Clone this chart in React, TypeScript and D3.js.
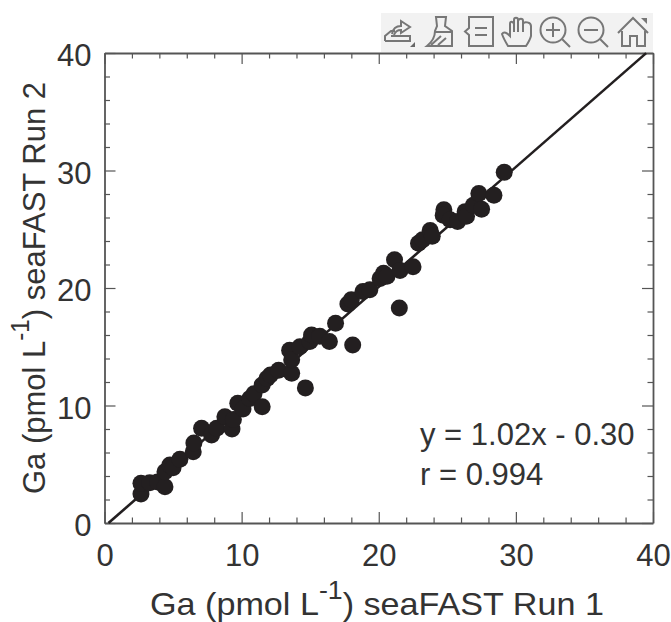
import React, { useEffect, useRef } from "react";
import * as d3 from "d3";

const run1 = [2.66, 2.66, 3.3, 3.88, 4.41, 4.41, 4.77, 5.0, 5.5, 6.47, 6.52, 7.08, 7.81, 8.18, 8.78, 9.3, 9.4, 9.72, 10.1, 10.6, 10.9, 11.5, 11.5, 11.85, 12.1, 12.7, 13.65, 13.5, 13.65, 14.65, 14.25, 14.98, 15.1, 15.7, 16.4, 16.85, 18.1, 17.75, 18.0, 18.85, 19.35, 20.1, 20.35, 20.6, 21.15, 21.5, 21.55, 22.5, 22.9, 23.2, 23.75, 23.9, 24.75, 24.7, 25.2, 25.75, 26.3, 26.4, 26.9, 27.5, 27.3, 28.4, 29.15];
const run2 = [2.47, 3.38, 3.43, 3.5, 3.09, 4.37, 4.94, 4.7, 5.42, 6.07, 6.8, 8.06, 7.49, 8.06, 9.05, 8.0, 8.8, 10.2, 9.7, 10.6, 11.0, 9.9, 11.75, 12.3, 12.6, 13.0, 12.75, 14.7, 13.9, 11.5, 15.0, 15.45, 16.0, 15.9, 15.45, 17.0, 15.15, 18.64, 19.0, 19.7, 19.85, 20.8, 21.25, 21.0, 22.4, 18.3, 21.5, 21.8, 23.8, 24.1, 24.9, 24.4, 26.65, 26.2, 25.8, 25.65, 26.5, 26.1, 27.05, 26.7, 28.05, 27.9, 29.85];
const majorTicks = [0, 10, 20, 30, 40];
const minorTicks = d3.range(0, 41, 2).filter((d) => d % 10 !== 0);
const fitSlope = 1.02;
const fitIntercept = -0.3;
const fitRange = [0.29, 39.5];
const titleStart = "Ga (pmol L";
const xTitleEnd = ") seaFAST Run 1";
const yTitleEnd = ") seaFAST Run 2";
const annotation = ["y = 1.02x - 0.30", "r = 0.994"];

const width = 671;
const height = 622;
const left = 104.5;
const right = 653;
const top = 53;
const bottom = 523;
const axisColor = "#555";
const textColor = "#333";
const font = "'Liberation Sans', Arial, sans-serif";

export default function App() {
  const svgRef = useRef<SVGSVGElement>(null);

  useEffect(() => {
    const svg = d3.select(svgRef.current);
    svg.selectAll("*").remove();

    const x = d3.scaleLinear().domain([0, 40]).range([left, right]);
    const y = d3.scaleLinear().domain([0, 40]).range([bottom, top]);

    // box, all four sides carry inward ticks
    const drawAxis = (axis: any, dx: number, dy: number, labels: boolean) => {
      const g = svg.append("g").attr("transform", `translate(${dx},${dy})`);
      g.call(axis.tickValues(majorTicks).tickSizeOuter(0).tickSizeInner(-11).tickFormat(labels ? d3.format("d") : () => ""));
      g.selectAll("line").attr("stroke", axisColor).attr("stroke-width", 1.2);
      g.select(".domain").attr("stroke", axisColor).attr("stroke-width", 1.8);
      g.selectAll("text").attr("font-family", font).attr("font-size", 31).attr("fill", textColor);
      return g;
    };
    const drawMinor = (axis: any, dx: number, dy: number) => {
      const g = svg.append("g").attr("transform", `translate(${dx},${dy})`);
      g.call(axis.tickValues(minorTicks).tickSizeOuter(0).tickSizeInner(-5.5).tickFormat(() => ""));
      g.select(".domain").remove();
      g.selectAll("line").attr("stroke", axisColor).attr("stroke-width", 1.2);
    };

    const xBottom = drawAxis(d3.axisBottom(x), 0, bottom, true);
    xBottom.selectAll("text").attr("dy", null).attr("y", 43);
    const yLeft = drawAxis(d3.axisLeft(y), left, 0, true);
    yLeft.selectAll("text").attr("x", -13).attr("dy", 12.5);
    drawAxis(d3.axisTop(x), 0, top, false);
    drawAxis(d3.axisRight(y), right, 0, false);

    drawMinor(d3.axisBottom(x), 0, bottom);
    drawMinor(d3.axisLeft(y), left, 0);
    drawMinor(d3.axisTop(x), 0, top);
    drawMinor(d3.axisRight(y), right, 0);

    // fit line
    const line = d3.line<number>().x((d) => x(d)).y((d) => y(fitSlope * d + fitIntercept));
    svg.append("path").attr("d", line(fitRange)).attr("fill", "none").attr("stroke", "#231f20").attr("stroke-width", 2.6);

    // points
    svg.append("g").selectAll("circle").data(run1).join("circle")
      .attr("cx", (d) => x(d))
      .attr("cy", (_, i) => y(run2[i]))
      .attr("r", 8.5)
      .attr("fill", "#231f20");

    // annotation
    svg.append("g").selectAll("text").data(annotation).join("text")
      .attr("x", 420)
      .attr("y", (_, i) => 445 + i * 40)
      .attr("font-family", font)
      .attr("font-size", 31)
      .attr("fill", textColor)
      .text((d) => d);

    // axis titles
    const title = (parent: any, end: string, length: number) => {
      const t = parent.append("text")
        .attr("font-family", font)
        .attr("font-size", 32)
        .attr("fill", textColor)
        .attr("textLength", length)
        .attr("lengthAdjust", "spacingAndGlyphs");
      t.append("tspan").text(titleStart);
      t.append("tspan").attr("dy", -16).attr("font-size", 25).text("-1");
      t.append("tspan").attr("dy", 16).text(end);
      return t;
    };
    title(svg, xTitleEnd, 454).attr("x", 150).attr("y", 615);
    title(svg.append("g").attr("transform", "translate(45,494) rotate(-90)"), yTitleEnd, 412);

    // toolbar
    const bar = svg.append("g");
    bar.append("rect").attr("x", 381).attr("y", 13).attr("width", 272).attr("height", 39).attr("fill", "#f2f2f2");
    const icon = bar.append("g").attr("fill", "none").attr("stroke", "#777").attr("stroke-width", 2);
    // export
    icon.append("path").attr("d", "M385 41V36L391 31L395 31M385 41H410V36H391M392 34C393 28 396 26 401 26V21L410 27L401 33V30C397 30 395 32 394 35");
    icon.append("path").attr("d", "M410 47L415 42V47Z").attr("fill", "#666").attr("stroke", "none");
    // brush
    icon.append("path").attr("d", "M436 17H446L445 26L452 31V46H427C432 42 435 36 435 31L437 26Z M435 32H452 M431 45L441 36M438 45L446 38");
    // data tips
    icon.append("path").attr("d", "M469 17H493V46H469V35L465 31.5L469 28Z M475 28H487 M475 35H487");
    // hand
    icon.append("path").attr("d", "M508 46C505 41 503 37 502 34C504 31 507 33 510 36V24C510 21 513 21 514 24V20C514 17 518 17 518 20V21C519 18 523 18 523 21V24C524 21 531 22 531 26V36C530 40 528 43 526 46Z M514 24V32M518 21V32M523 24V32");
    // zoom in / out
    [553, 591].forEach((cx, i) => {
      icon.append("circle").attr("cx", cx).attr("cy", 30).attr("r", 12.5);
      icon.append("path").attr("d", `M${cx + 9} 39L${cx + 17} 47M${cx - 7} 30H${cx + 7}` + (i === 0 ? `M${cx} 23V37` : ""));
    });
    // home
    icon.append("path").attr("d", "M618 33L633 18L648 33M622 31V46H630V36H637V46H645V31");
    icon.append("path").attr("d", "M641 18L647 18L647 24Z").attr("fill", "#777").attr("stroke", "none");
  }, []);

  return (
    <svg
      ref={svgRef}
      width={width}
      height={height}
      style={{ position: "absolute", left: 0, top: 0, background: "#fff" }}
    />
  );
}
